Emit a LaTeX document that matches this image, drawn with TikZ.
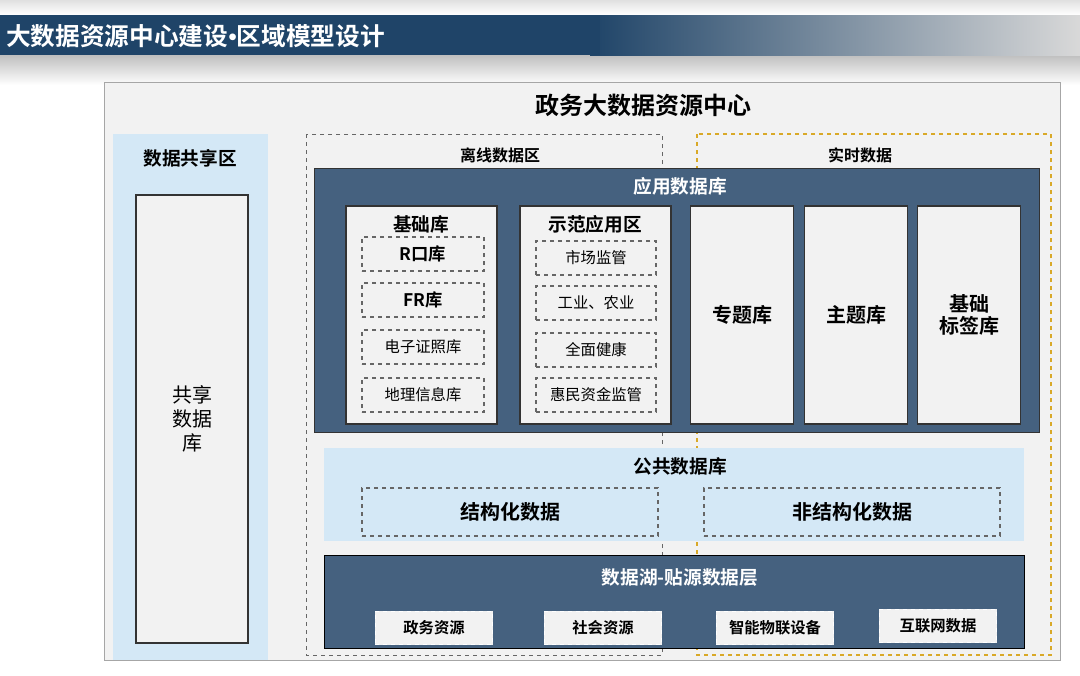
\documentclass[tikz,border=0pt]{standalone}
\usepackage{fontspec}
\setmainfont{Noto Sans CJK SC}
\newfontfamily\cjkb{Noto Sans CJK SC Bold}
\definecolor{navy}{HTML}{1F4468}
\definecolor{slate}{HTML}{45617F}
\definecolor{lblue}{HTML}{D4E8F6}
\definecolor{panel}{HTML}{F2F2F2}
\definecolor{gold}{HTML}{D9A928}
\begin{document}
\begin{tikzpicture}[x=0.75pt,y=-0.75pt,
  wbox/.style={draw=black!80,fill=panel,line width=0.8pt},
  dbox/.style={draw=black!60,dashed,line width=0.8pt,fill=panel},
  tb/.style={font=\cjkb\fontsize{14}{16}\selectfont},
  tn/.style={font=\fontsize{11.5}{13}\selectfont}]
\useasboundingbox (0,0) rectangle (1080,675);
\fill[white] (0,0) rectangle (1080,675);
\shade[top color=black!12,bottom color=white] (0,0) rectangle (1080,15);
\shade[top color=black!25,bottom color=white] (0,55) rectangle (1080,85);
\shade[left color=navy,right color=black!15] (590,15) rectangle (1080,55);
\fill[navy] (0,15) rectangle (600,55);
\node[anchor=west,text=white,font=\cjkb\fontsize{18.5}{21}\selectfont,inner sep=0pt] (title) at (6,36) {大数据资源中心建设{\fontspec{Liberation Sans}\textbullet}区域模型设计};
% main panel
\draw[black!35,fill=panel] (104,82) rectangle (1060,660);
\node[font=\cjkb\fontsize{18}{20}\selectfont] (mt) at (643,105) {政务大数据资源中心};
% share zone
\fill[lblue] (113,134) rectangle (268,660);
\node[tb] (sz) at (190,158) {数据共享区};
\node[wbox,minimum width=84pt,minimum height=336pt,align=center,font=\fontsize{15}{18}\selectfont] (sdb) at (192,419) {共享\\数据\\库};
% dashed zones
\draw[black!60,dashed] (306,134) rectangle (662,655);
\node[font=\cjkb\fontsize{12}{14}\selectfont] (off) at (500,155) {离线数据区};
\draw[gold,dashed,line width=0.8pt] (697,134) rectangle (1051,655);
\node[font=\cjkb\fontsize{12}{14}\selectfont] (rt) at (860,155) {实时数据};
% app db
\draw[fill=slate,draw=black!80] (314,168) rectangle (1039,432);
\node[tb,text=white] (app) at (680,186) {应用数据库};
\draw[wbox] (346,206) rectangle (497,424);
\node[tb] (jc) at (421,224) {基础库};
\draw[wbox] (520,206) rectangle (671,424);
\node[tb] (sf) at (595,224) {示范应用区};
\foreach \x/\t [count=\i] in {742/专题库,856/主题库,969/{基础\\标签库}}{
  \node[wbox,minimum width=77pt,minimum height=163.5pt,align=center,font=\cjkb\fontsize{15}{17}\selectfont] (k\i) at (\x,315) {\t};
}
\foreach \y/\t [count=\i] in {254/{\cjkb\fontsize{13}{15}\selectfont R口库},300/{\cjkb\fontsize{13}{15}\selectfont FR库},347/电子证照库,395/地理信息库}{
  \node[dbox,minimum width=91.5pt,minimum height=25.5pt,tn] (a\i) at (423,\y) {\t};
}
\foreach \y/\t [count=\i] in {258/市场监管,303/工业、农业,350/全面健康,395/惠民资金监管}{
  \node[dbox,minimum width=90pt,minimum height=25.5pt,tn] (b\i) at (596,\y) {\t};
}
% public db
\fill[lblue] (324,448) rectangle (1024,541);
\node[tb] (pub) at (680,466) {公共数据库};
\node[dbox,fill=lblue,minimum width=222pt,minimum height=36pt,font=\cjkb\fontsize{15}{17}\selectfont] (s1) at (510,512) {结构化数据};
\node[dbox,fill=lblue,minimum width=222pt,minimum height=36pt,font=\cjkb\fontsize{15}{17}\selectfont] (s2) at (852,512) {非结构化数据};
% data lake
\draw[fill=slate,draw=black] (324,555) rectangle (1024,648);
\node[tb,text=white] (lake) at (680,577) {数据湖-贴源数据层};
\foreach \x/\t [count=\i] in {434/政务资源,603/社会资源,775/智能物联设备,938/互联网数据}{
  \node[draw=white,dashed,fill=panel,minimum width=88pt,minimum height=25pt,font=\cjkb\fontsize{11.5}{13}\selectfont] (l\i) at (\x,\ifnum\i=4 626\else 628\fi) {\t};
}
\end{tikzpicture}
\end{document}
